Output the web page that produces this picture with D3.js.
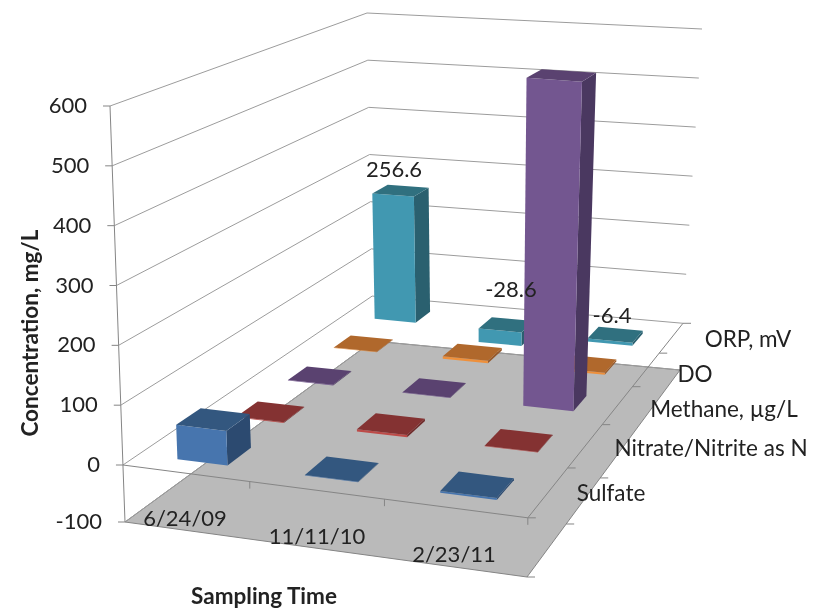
<!DOCTYPE html>
<html>
<head>
<meta charset="utf-8">
<script src="https://cdn.jsdelivr.net/npm/d3@7"></script>
<style>
  html, body { margin: 0; padding: 0; background: #fff; }
  svg { filter: blur(0.4px); }
  text { font-family: Lato, "Open Sans", sans-serif; fill: #222; }
</style>
</head>
<body>
<div id="chart"></div>
<script>
// data, series run front to back
const times = ["6/24/09", "11/11/10", "2/23/11"];
const seriesNames = ["Sulfate", "Nitrate/Nitrite as N", "Methane, µg/L", "DO", "ORP, mV"];
const sulfate = [58, 1, 3];
const nitrate = [1, 4, 1];
const methane = [1, 1, 598];
const dissolvedOxygen = [1, 5, 4];
const orp = [256.6, -28.6, -6.4];
const valueTicks = [-100, 0, 100, 200, 300, 400, 500, 600];

const seriesValues = [sulfate, nitrate, methane, dissolvedOxygen, orp];
const front = ["#4775ae", "#bd4b48", "#735690", "#ee903c", "#4198b1"];
const top_ = ["#33577f", "#843232", "#5a4270", "#b0682c", "#30707f"];
const side = ["#2c4a70", "#6e2a2a", "#4a3860", "#96582a", "#2a606f"];

const width = 821, height = 609;

const svg = d3.select("#chart").append("svg")
  .attr("width", width)
  .attr("height", height)
  .style("display", "block");

// corners of the plot box on screen: front-left, front-right, back-right, back-left
const floorQuad = [[125, 522], [527, 577], [680, 370], [373, 341]];
const roofQuad = [[110, 106], [533, 145], [702, 29], [367, 13]];

// square to quad homography
function homography(q) {
  const [x0, y0] = q[0], [x1, y1] = q[1], [x2, y2] = q[2], [x3, y3] = q[3];
  const dx1 = x1 - x2, dx2 = x3 - x2, sx = x0 - x1 + x2 - x3;
  const dy1 = y1 - y2, dy2 = y3 - y2, sy = y0 - y1 + y2 - y3;
  const det = dx1 * dy2 - dx2 * dy1;
  const g = (sx * dy2 - dx2 * sy) / det;
  const h = (dx1 * sy - sx * dy1) / det;
  const a = x1 - x0 + g * x1, b = x3 - x0 + h * x3;
  const d = y1 - y0 + g * y1, e = y3 - y0 + h * y3;
  return (u, w) => {
    const n = g * u + h * w + 1;
    return [(a * u + b * w + x0) / n, (d * u + e * w + y0) / n];
  };
}
const floorH = homography(floorQuad);
const roofH = homography(roofQuad);

// the three axes of the box, bars sit slightly off centre in their cells
const uScale = d3.scaleBand().domain(times).range([0.005, 1.005]).paddingInner(0.6).paddingOuter(0.3);
const wScale = d3.scaleBand().domain(seriesNames).range([-0.012, 0.988]).paddingInner(0.6).paddingOuter(0.3);
// the lower part of the value axis is a little squeezed by perspective
const vScale = d3.scaleLinear().domain([-100, 0, 600]).range([0, 0.137, 1]);

function project(u, w, value) {
  const t = vScale(value);
  const a = floorH(u, w), b = roofH(u, w);
  return [a[0] + (b[0] - a[0]) * t, a[1] + (b[1] - a[1]) * t];
}

const line = d3.line();
const closed = pts => line(pts) + "Z";
const axisColor = "#858585", gridColor = "#9c9c9c";

// floor
svg.append("path")
  .attr("d", closed([[0, 0], [1, 0], [1, 1], [0, 1]].map(c => project(c[0], c[1], -100))))
  .attr("fill", "#bababa")
  .attr("stroke", axisColor)
  .attr("stroke-width", 1);

// walls, gridlines go up the left wall and across the back one
valueTicks.forEach(v => {
  svg.append("path")
    .attr("d", line([project(0, 0, v), project(0, 1, v), project(1, 1, v)]))
    .attr("fill", "none")
    .attr("stroke", gridColor)
    .attr("stroke-width", 1);
});

svg.append("path")
  .attr("d", line([project(0, 0, -100), project(0, 0, 600)]))
  .attr("stroke", axisColor)
  .attr("fill", "none");

valueTicks.forEach(v => {
  const p = project(0, 0, v);
  svg.append("line")
    .attr("x1", p[0] - 7).attr("x2", p[0]).attr("y1", p[1]).attr("y2", p[1])
    .attr("stroke", axisColor);
  svg.append("text")
    .attr("x", p[0] - 23)
    .attr("y", p[1] + 7)
    .attr("text-anchor", "end")
    .style("font-size", "22px")
    .text(v);
});

// front and right edges of the zero plane with their ticks
svg.append("path")
  .attr("d", line([project(0, 0, 0), project(1, 0, 0), project(1, 1, 0)]))
  .attr("fill", "none")
  .attr("stroke", axisColor);

const uStep = uScale.step();
[1, 2, 3].forEach(i => {
  const p = project(i * uStep, 0, 0);
  svg.append("line")
    .attr("x1", p[0]).attr("x2", p[0]).attr("y1", p[1]).attr("y2", p[1] + 7)
    .attr("stroke", axisColor);
});
const wStep = wScale.step();
d3.range(0, 6).forEach(i => {
  const p = project(1, i * wStep, 0);
  svg.append("line")
    .attr("x1", p[0]).attr("x2", p[0] + 8).attr("y1", p[1]).attr("y2", p[1])
    .attr("stroke", axisColor);
  if (i < 3) {
    const q = project(1, i * wStep, -100);
    svg.append("line")
      .attr("x1", q[0]).attr("x2", q[0] + 8).attr("y1", q[1]).attr("y2", q[1])
      .attr("stroke", axisColor);
  }
});

// bars, painted from the back row to the front row
d3.range(seriesNames.length - 1, -1, -1).forEach(s => {
  const w0 = wScale(seriesNames[s]), w1 = w0 + wScale.bandwidth();
  times.forEach((t, i) => {
    const u0 = uScale(t), u1 = u0 + uScale.bandwidth();
    const val = seriesValues[s][i];
    const hi = Math.max(val, 0), lo = Math.min(val, 0);
    const g = svg.append("g");
    g.append("path")
      .attr("d", closed([project(u1, w0, lo), project(u1, w1, lo), project(u1, w1, hi), project(u1, w0, hi)]))
      .attr("fill", side[s]);
    g.append("path")
      .attr("d", closed([project(u0, w0, lo), project(u1, w0, lo), project(u1, w0, hi), project(u0, w0, hi)]))
      .attr("fill", front[s]);
    g.append("path")
      .attr("d", closed([project(u0, w0, hi), project(u1, w0, hi), project(u1, w1, hi), project(u0, w1, hi)]))
      .attr("fill", top_[s]);
  });
});

// value labels on the ORP row sit over everything else
const orpLabelPos = [[394, 177], [511, 297], [612, 323]];
orp.forEach((v, i) => {
  svg.append("text")
    .attr("x", orpLabelPos[i][0])
    .attr("y", orpLabelPos[i][1])
    .attr("text-anchor", "middle")
    .style("font-size", "22px")
    .text(v);
});

// category labels
const timeLabelPos = [[185, 526], [317, 544], [454, 562]];
times.forEach((t, i) => {
  svg.append("text")
    .attr("x", timeLabelPos[i][0])
    .attr("y", timeLabelPos[i][1])
    .attr("text-anchor", "middle")
    .style("font-size", "22px")
    .text(t);
});

// series labels
const seriesLabelPos = [[611, 501], [711, 456], [724, 417], [695, 382], [748, 347]];
seriesNames.forEach((t, i) => {
  svg.append("text")
    .attr("x", seriesLabelPos[i][0])
    .attr("y", seriesLabelPos[i][1])
    .attr("text-anchor", "middle")
    .style("font-size", "22.5px")
    .text(t);
});

// axis titles
svg.append("text")
  .attr("x", 264)
  .attr("y", 604)
  .attr("text-anchor", "middle")
  .style("font-size", "22.5px")
  .style("font-weight", "700")
  .text("Sampling Time");

svg.append("text")
  .attr("transform", "translate(38,333) rotate(-90)")
  .attr("text-anchor", "middle")
  .style("font-size", "22.5px")
  .style("font-weight", "700")
  .text("Concentration, mg/L");
</script>
</body>
</html>
